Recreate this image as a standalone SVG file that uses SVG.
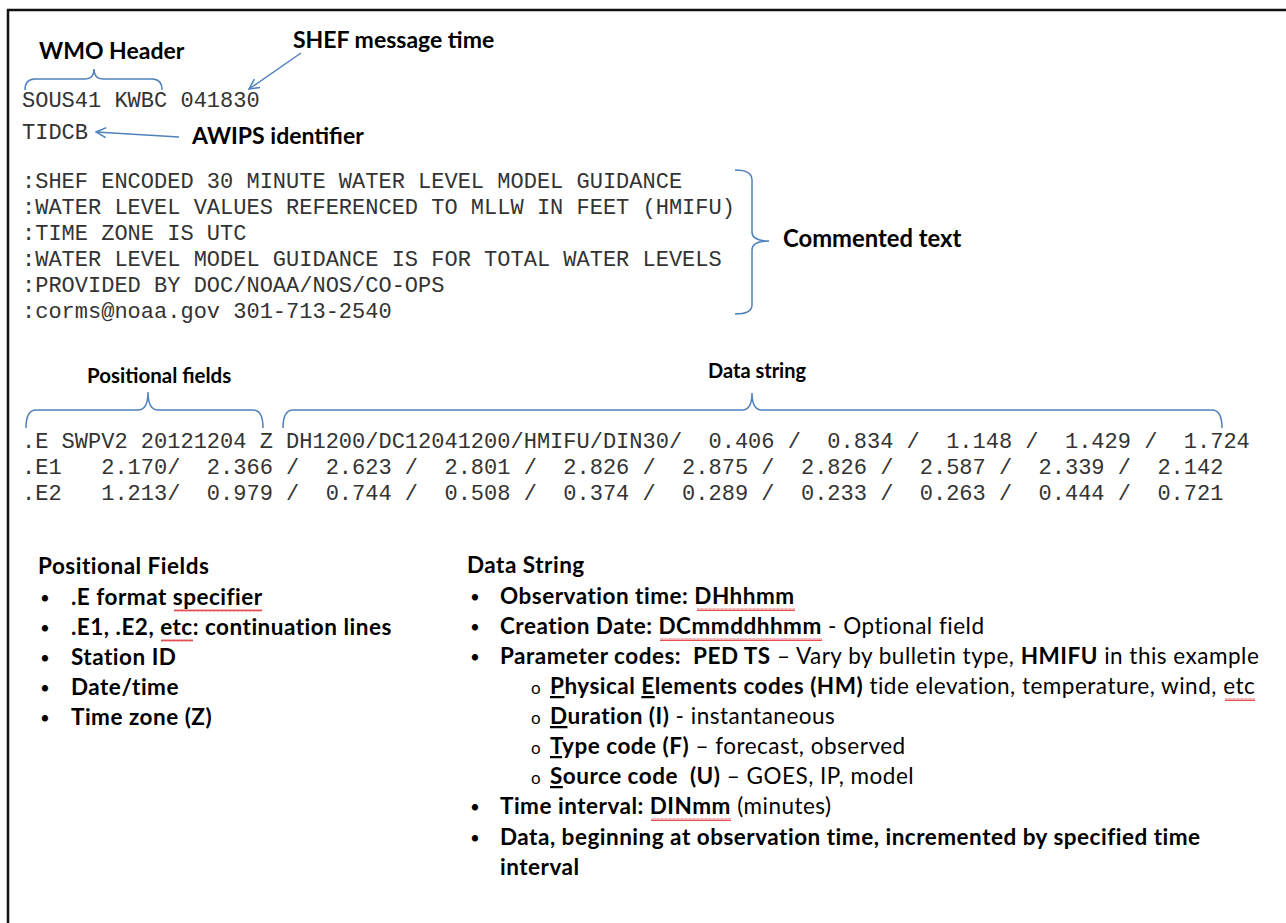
<svg xmlns="http://www.w3.org/2000/svg" width="1286" height="923" viewBox="0 0 1286 923">
<style>
.mono{font-family:"Liberation Mono","Courier New",monospace;font-size:22px;fill:#333}
.hd{font-family:Lato,"Liberation Sans",sans-serif;font-weight:bold;fill:#000}
.tx{font-family:Lato,"Liberation Sans",sans-serif;font-size:22.5px;letter-spacing:0.5px;fill:#000}
.bu{font-family:Lato,"Liberation Sans",sans-serif;font-size:17px;fill:#000}
.b{font-weight:bold}
.br{fill:none;stroke:#4f81bd;stroke-width:1.5}
.ar{fill:none;stroke:#4f81bd;stroke-width:1.5}
.sq{fill:url(#squig)}
</style>
<defs>
<marker id="open" viewBox="0 0 12 12" refX="11" refY="6" markerWidth="12" markerHeight="12" markerUnits="userSpaceOnUse" orient="auto">
<path d="M1,1 L11,6 L1,11" fill="none" stroke="#4f81bd" stroke-width="1.5"/>
</marker>
<pattern id="squig" width="4" height="3" patternUnits="userSpaceOnUse">
<path d="M0,2.5 L1,0.5 L2,2.5 L3,0.5 L4,2.5" fill="none" stroke="#e02020" stroke-width="0.8"/>
</pattern>
</defs>
<rect width="1286" height="923" fill="#fff"/>
<path d="M8,923 L8,10 L1286,10" fill="none" stroke="#111" stroke-width="2.5"/>

<g id="header">
<text class="hd" x="39" y="59" font-size="23">WMO Header</text>
<text class="hd" x="293" y="48" font-size="23">SHEF message time</text>
<text class="mono" x="22" y="107">SOUS41 KWBC 041830</text>
<text class="mono" x="22" y="139">TIDCB</text>
<text class="hd" x="192" y="144" font-size="23">AWIPS identifier</text>
</g>

<g id="comments">
<text class="mono" x="22" y="188">:SHEF ENCODED 30 MINUTE WATER LEVEL MODEL GUIDANCE</text>
<text class="mono" x="22" y="214">:WATER LEVEL VALUES REFERENCED TO MLLW IN FEET (HMIFU)</text>
<text class="mono" x="22" y="240">:TIME ZONE IS UTC</text>
<text class="mono" x="22" y="266">:WATER LEVEL MODEL GUIDANCE IS FOR TOTAL WATER LEVELS</text>
<text class="mono" x="22" y="292">:PROVIDED BY DOC/NOAA/NOS/CO-OPS</text>
<text class="mono" x="22" y="318">:corms@noaa.gov 301-713-2540</text>
<text class="hd" x="783" y="247" font-size="23.8">Commented text</text>
</g>

<g id="data">
<text class="hd" x="87" y="383" font-size="20.5">Positional fields</text>
<text class="hd" x="708" y="378" font-size="20">Data string</text>
<text class="mono" x="22" y="448" xml:space="preserve">.E SWPV2 20121204 Z DH1200/DC12041200/HMIFU/DIN30/  0.406 /  0.834 /  1.148 /  1.429 /  1.724</text>
<text class="mono" x="22" y="474" xml:space="preserve">.E1   2.170/  2.366 /  2.623 /  2.801 /  2.826 /  2.875 /  2.826 /  2.587 /  2.339 /  2.142</text>
<text class="mono" x="22" y="500" xml:space="preserve">.E2   1.213/  0.979 /  0.744 /  0.508 /  0.374 /  0.289 /  0.233 /  0.263 /  0.444 /  0.721</text>
</g>

<g id="connectors">
<path class="br" d="M25,90 Q25,79 35,79 L85,79 Q94,79 94,69 Q94,79 103,79 L152,79 Q162,79 162,90"/>
<path class="ar" d="M301,53 L249,89" marker-end="url(#open)"/>
<path class="ar" d="M179,137 L96,132" marker-end="url(#open)"/>
<path class="br" d="M735,170 Q752,170 752,180 L752,232 Q752,241 769,241 Q752,241 752,250 L752,305 Q752,314 735,314"/>
<path class="br" d="M26,428 Q26,410 36,410 L138,410 Q148,410 148,392 Q148,410 158,410 L253,410 Q263,410 263,428"/>
<path class="br" d="M283,428 Q283,410 293,410 L742,410 Q752,410 752,393 Q752,410 762,410 L1212,410 Q1222,410 1222,428"/>
</g>

<g id="positional-fields">
<text class="tx b" x="38" y="574">Positional Fields</text>
<text class="bu" x="40" y="604">•</text><text class="tx b" x="71" y="605">.E format specifier</text>
<text class="bu" x="40" y="634">•</text><text class="tx b" x="71" y="635">.E1, .E2, etc: continuation lines</text>
<text class="bu" x="40" y="664">•</text><text class="tx b" x="71" y="665">Station ID</text>
<text class="bu" x="40" y="694">•</text><text class="tx b" x="71" y="695">Date/time</text>
<text class="bu" x="40" y="724">•</text><text class="tx b" x="71" y="725">Time zone (Z)</text>
<rect class="sq" x="174" y="609" width="88" height="3"/>
<rect class="sq" x="161" y="639" width="32" height="3"/>
</g>

<g id="data-string">
<text class="tx b" x="467" y="573">Data String</text>
<text class="bu" x="470" y="603">•</text><text class="tx b" x="500" y="604">Observation time: DHhhmm</text>
<text class="bu" x="470" y="633">•</text><text class="tx" x="500" y="634"><tspan class="b">Creation Date: DCmmddhhmm</tspan> - Optional field</text>
<text class="bu" x="470" y="663">•</text><text class="tx" x="500" y="664" xml:space="preserve"><tspan class="b">Parameter codes:  PED TS</tspan> – Vary by bulletin type, <tspan class="b">HMIFU</tspan> in this example</text>
<text class="bu" x="531" y="694" font-size="15">o</text><text class="tx" x="550" y="694"><tspan class="b"><tspan text-decoration="underline">P</tspan>hysical <tspan text-decoration="underline">E</tspan>lements codes (HM)</tspan> tide elevation, temperature, wind, etc</text>
<text class="bu" x="531" y="724" font-size="15">o</text><text class="tx" x="550" y="724"><tspan class="b"><tspan text-decoration="underline">D</tspan>uration (I)</tspan> - instantaneous</text>
<text class="bu" x="531" y="754" font-size="15">o</text><text class="tx" x="550" y="754"><tspan class="b"><tspan text-decoration="underline">T</tspan>ype code (F)</tspan> – forecast, observed</text>
<text class="bu" x="531" y="784" font-size="15">o</text><text class="tx" x="550" y="784" xml:space="preserve"><tspan class="b"><tspan text-decoration="underline">S</tspan>ource code  (U)</tspan> – GOES, IP, model</text>
<text class="bu" x="470" y="813">•</text><text class="tx" x="500" y="814"><tspan class="b">Time interval: DINmm</tspan> (minutes)</text>
<text class="bu" x="470" y="844">•</text><text class="tx b" x="500" y="845">Data, beginning at observation time, incremented by specified time</text>
<text class="tx b" x="500" y="875">interval</text>
<rect class="sq" x="697" y="608" width="98" height="3"/>
<rect class="sq" x="660" y="638" width="162" height="3"/>
<rect class="sq" x="1225" y="698" width="30" height="3"/>
<rect class="sq" x="651" y="818" width="80" height="3"/>
</g>
</svg>
